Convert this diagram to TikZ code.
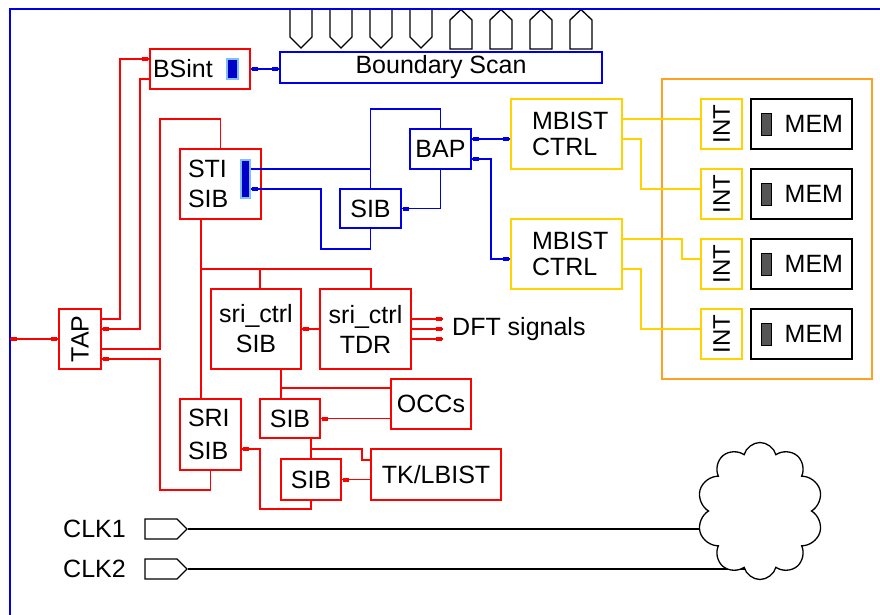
\documentclass[tikz,border=0pt]{standalone}
\usepackage{fontspec}
\usepackage{graphicx}
\setmainfont{Liberation Sans}
\usetikzlibrary{shapes.symbols,decorations.markings,calc}
\definecolor{cred}{RGB}{255,0,0}
\definecolor{cblue}{RGB}{0,0,230}
\definecolor{cbar}{RGB}{0,0,200}
\definecolor{cbarline}{RGB}{130,190,255}
\definecolor{cyel}{RGB}{255,210,0}
\definecolor{corange}{RGB}{255,160,30}
\definecolor{cgray}{RGB}{85,85,85}
\pgfdeclarelayer{bg}
\pgfsetlayers{bg,main}
\tikzset{
  lbl/.style={font=\fontsize{25}{30}\selectfont},
  box/.style={draw, line width=1.5pt, fill=white, inner sep=0pt, lbl},
  redbox/.style={box, draw=cred},
  bluebox/.style={box, draw=cblue},
  yelbox/.style={box, draw=cyel},
  membox/.style={box, draw=black},
  barnode/.style={draw=cbarline, fill=cbar, line width=1.5pt, inner sep=0pt},
  rwire/.style={cred, line width=1.5pt},
  bwire/.style={cblue, line width=1.5pt},
  ywire/.style={cyel, line width=1.5pt},
  kwire/.style={black, line width=1.5pt},
  dotE/.style={postaction={decorate, decoration={markings, mark=at position -4pt with {\fill (-3pt,-2pt) rectangle (3pt,2pt);}}}},
  dotS/.style={postaction={decorate, decoration={markings, mark=at position 4pt with {\fill (-3pt,-2pt) rectangle (3pt,2pt);}}}},
  pinshape/.style={draw=black, line width=1.3pt},
}
\begin{document}
\begin{tikzpicture}[x=1pt,y=-1pt]
\useasboundingbox (0,0) rectangle (880,615);
% top pins
\foreach \i in {0,...,3} {
  \draw[pinshape] ({290+40*\i},9) -- ({290+40*\i},37) -- ({301+40*\i},48) -- ({312+40*\i},37) -- ({312+40*\i},9);
}
\foreach \i in {4,...,7} {
  \draw[pinshape] ({290+40*\i},49) -- ({290+40*\i},20) -- ({301+40*\i},9.5) -- ({312+40*\i},20) -- ({312+40*\i},49) -- cycle;
}
\draw[cblue, line width=1.8pt] (10,615) -- (10,9) -- (880,9);

% boxes
\node[redbox, minimum width=100pt, minimum height=40pt, text width=94pt, inner xsep=3pt, align=left] (BSint) at (200,69) {BSint};
\node[barnode, minimum width=11pt, minimum height=20pt] (BSbar) at (232.5,69) {};
\node[bluebox, minimum width=322pt, minimum height=31pt] (BS) at (441,67.5) {Boundary Scan};
\node[redbox, minimum width=81pt, minimum height=70pt, text width=65pt, inner xsep=8pt, align=left] (STI) at (220.5,184) {STI\\SIB};
\node[barnode, minimum width=9pt, minimum height=38pt] (STIbar) at (245.5,179) {};
\node[bluebox, minimum width=61pt, minimum height=40pt] (BAP) at (440.5,149) {BAP};
\node[bluebox, minimum width=61pt, minimum height=39pt] (bSIB) at (370.5,208.5) {SIB};
\node[yelbox, minimum width=111pt, minimum height=70pt, text width=69pt, inner xsep=21pt, align=left] (MB1) at (566.5,134) {MBIST\\[-4pt]CTRL};
\node[yelbox, minimum width=111pt, minimum height=70pt, text width=69pt, inner xsep=21pt, align=left] (MB2) at (566.5,254) {MBIST\\[-4pt]CTRL};
\node[draw=corange, line width=1.5pt, minimum width=210pt, minimum height=300pt, inner sep=0pt] (bank) at (767,229) {};
\foreach \n/\y in {1/124,2/194,3/264,4/334} {
  \node[yelbox, minimum width=41pt, minimum height=50pt, font=\fontsize{24}{28}\selectfont] (INT\n) at (721.5,\y) {\rotatebox{90}{INT}};
  \node[membox, minimum width=101pt, minimum height=50pt, text width=83pt, inner xsep=9pt, align=right] (MEM\n) at (801.5,\y) {MEM};
  \node[draw=black, fill=cgray, line width=0.8pt, minimum width=10pt, minimum height=22pt, inner sep=0pt] (MEMbar\n) at (766,\y) {};
}
\node[redbox, minimum width=42pt, minimum height=60pt] (TAP) at (80,339) {\rotatebox{90}{TAP}};
\node[redbox, minimum width=90pt, minimum height=80pt, align=center] (sriSIB) at (256,329) {sri\_ctrl\\SIB};
\node[redbox, minimum width=91pt, minimum height=80pt, align=center] (TDR) at (365.5,329) {sri\_ctrl\\TDR};
\node[redbox, minimum width=61pt, minimum height=71pt, text width=45pt, inner xsep=8pt, align=left] (SRI) at (210.5,434.5) {SRI\\[3pt]SIB};
\node[redbox, minimum width=60pt, minimum height=39pt] (SIB2) at (290,418.5) {SIB};
\node[redbox, minimum width=60pt, minimum height=41pt] (SIB3) at (311,479.5) {SIB};
\node[redbox, minimum width=80pt, minimum height=50pt] (OCC) at (431,404) {OCCs};
\node[redbox, minimum width=130pt, minimum height=51pt] (TK) at (436,474.5) {TK/LBIST};
\node[lbl, anchor=west, inner sep=0pt] (DFT) at (452,329) {DFT signals};

% clocks and cloud
\node[lbl, anchor=west, inner sep=0pt] (CLK1t) at (63,529) {CLK1};
\node[lbl, anchor=west, inner sep=0pt] (CLK2t) at (63,569) {CLK2};
\node[draw=black, line width=1.3pt, shape=signal, signal to=east, signal pointer angle=90, minimum width=42pt, minimum height=20pt, inner sep=0pt] (CLK1p) at (161,529) {};
\node[draw=black, line width=1.3pt, shape=signal, signal to=east, signal pointer angle=90, minimum width=42pt, minimum height=20pt, inner sep=0pt] (CLK2p) at (161,569) {};
\node[draw=black, line width=1.3pt, fill=white, cloud, cloud puffs=10, cloud ignores aspect, minimum width=126pt, minimum height=137pt, inner sep=0pt] (cloud) at (760,511) {};
\begin{pgfonlayer}{bg}
\draw[kwire] (CLK1p.east) -- (CLK1p.east -| cloud.center);
\draw[kwire] (CLK2p.east) -- (CLK2p.east -| cloud.center);
\end{pgfonlayer}

% red wires
\coordinate (ext) at (10,339);
\draw[rwire, dotS, dotE] (ext) -- (TAP.west);
\draw[rwire, dotE] ([yshift=20pt]TAP.east) -| (120,59) -- ([yshift=10pt]BSint.west);
\draw[rwire, dotE] ([yshift=-10pt]BSint.west) -- (140,79) |- ([yshift=10pt]TAP.east);
\draw[rwire] ([yshift=-10pt]TAP.east) -| (160,119) -| (STI.north);
\draw[rwire, dotE] (SRI.south) |- (160,490) |- ([yshift=-20pt]TAP.east);
\draw[rwire] ([xshift=-19.5pt]STI.south) -- ([xshift=-9.5pt]SRI.north);
\draw[rwire] (201,269) -- (371,269) -- ([xshift=5.5pt]TDR.north);
\draw[rwire] (260,269) -- ([xshift=4pt]sriSIB.north);
\draw[rwire, dotE] (TDR.west) -- (sriSIB.east);
\foreach \s/\n in {10/1,0/2,-10/3} {
  \coordinate (dft\n) at ($([yshift=\s pt]TDR.east)+(31,0)$);
  \draw[rwire, dotE] ([yshift=\s pt]TDR.east) -- (dft\n);
}
\draw[rwire] ([xshift=25pt]sriSIB.south) -- ([xshift=-9pt]SIB2.north);
\draw[rwire] (281,388) -- ([yshift=16pt]OCC.west);
\draw[rwire, dotE] (SIB2.east -| OCC.west) -- (SIB2.east);
\draw[rwire] ([xshift=21pt]SIB2.south) -- (SIB3.north);
\draw[rwire] (311,449) -- (362,449) |- ([yshift=14.5pt]TK.west);
\draw[rwire, dotE] (SIB3.east -| TK.west) -- (SIB3.east);
\draw[rwire, dotE] (SIB3.south) |- (260,509) |- ([yshift=-14.5pt]SRI.east);

% blue wires
\draw[bwire, dotS, dotE] (BSint.east) -- (BSint.east -| BS.west);
\draw[bwire] ([yshift=10pt]STIbar.east) -- (370.5,169);
\draw[bwire] (bSIB.north) -- (370.5,109) -| (BAP.north);
\draw[bwire, dotE] (BAP.south) |- (bSIB.east);
\draw[bwire, dotE] (bSIB.south) |- (321,249) |- ([yshift=-10pt]STIbar.east);
\draw[bwire, dotS, dotE] ([yshift=10pt]BAP.east) -- ([yshift=-5pt]MB1.west);
\draw[bwire, dotS, dotE] ([yshift=-10pt]BAP.east) -- (491,159) |- ([yshift=-5pt]MB2.west);

% yellow wires
\draw[ywire] ([yshift=15pt]MB1.east) -- ([yshift=5pt]INT1.west);
\draw[ywire] ([yshift=-5pt]MB1.east) -- (641,139) |- ([yshift=5pt]INT2.west);
\draw[ywire] ([yshift=15pt]MB2.east) -- (682,239) |- ([yshift=5pt]INT3.west);
\draw[ywire] ([yshift=-15pt]MB2.east) -- (641,269) |- ([yshift=5pt]INT4.west);
\end{tikzpicture}
\end{document}
